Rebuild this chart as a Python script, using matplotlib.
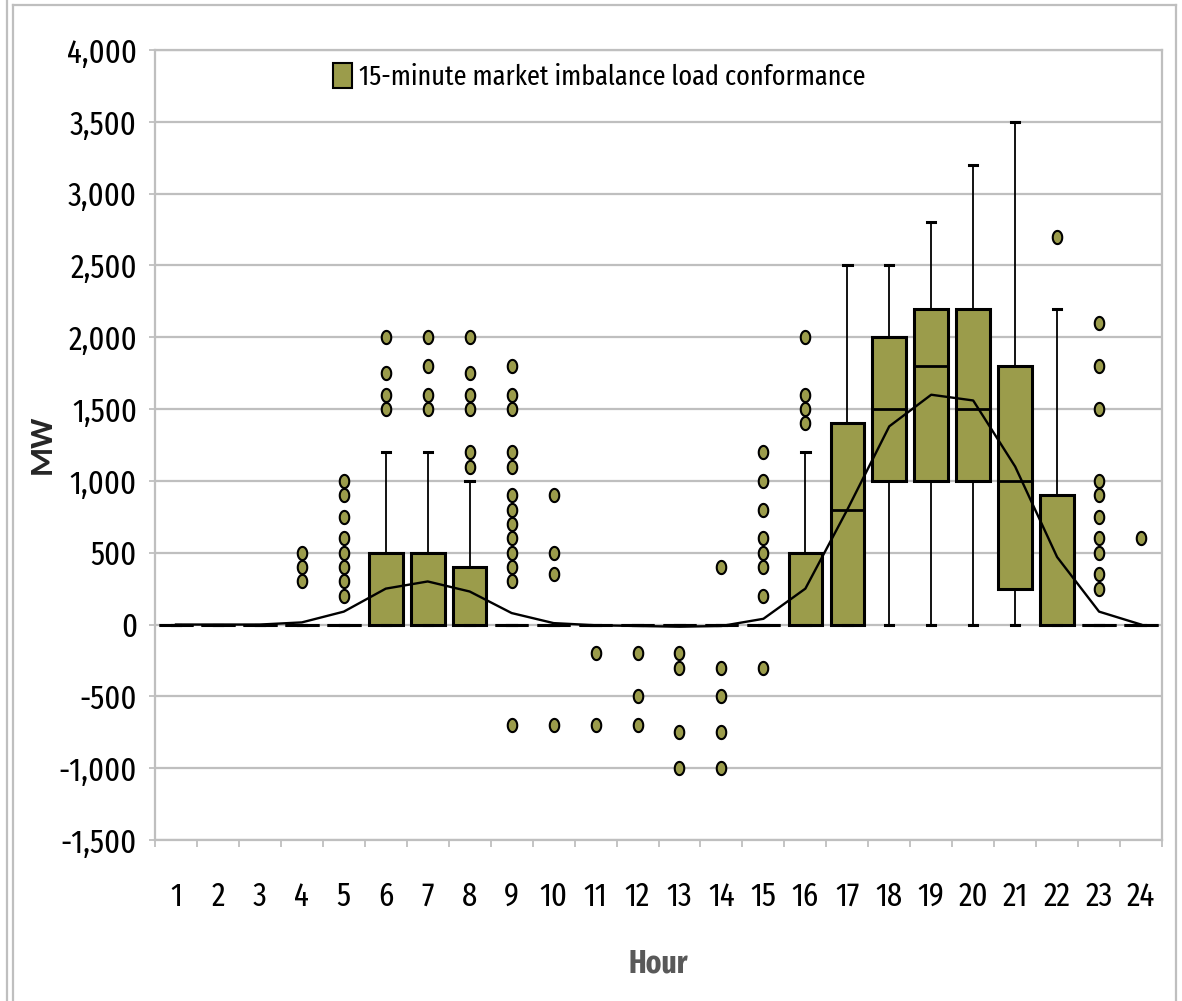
import matplotlib
matplotlib.use("Agg")
import matplotlib.pyplot as plt
from matplotlib.path import Path
from matplotlib.patches import Patch
from matplotlib.lines import Line2D
import numpy as np

# ---------------- data ----------------
hours = list(range(1, 25))
hour_labels = [str(h) for h in hours]

q1 = [0, 0, 0, 0, 0, 0, 0, 0, 0, 0, 0, 0, 0, 0, 0, 0, 0, 1000, 1000, 1000, 250, 0, 0, 0]
q3 = [0, 0, 0, 0, 0, 500, 500, 400, 0, 0, 0, 0, 0, 0, 0, 500, 1400, 2000, 2200, 2200, 1800, 900, 0, 0]
medians = [0, 0, 0, 0, 0, 0, 0, 0, 0, 0, 0, 0, 0, 0, 0, 0, 800, 1500, 1800, 1500, 1000, 0, 0, 0]
whisker_low = [0] * 24
whisker_high = [0, 0, 0, 0, 0, 1200, 1200, 1000, 0, 0, 0, 0, 0, 0, 0, 1200, 2500, 2500, 2800, 3200, 3500, 2200, 0, 0]
means = [0, 0, 0, 15, 90, 250, 300, 230, 80, 10, -5, -10, -15, -10, 40, 250, 800, 1380, 1600, 1560, 1100, 470, 90, 0]

outliers = {
    4: [500, 400, 300],
    5: [1000, 900, 750, 600, 500, 400, 300, 200],
    6: [2000, 1750, 1600, 1500],
    7: [2000, 1800, 1600, 1500],
    8: [2000, 1750, 1600, 1500, 1200, 1100],
    9: [1800, 1600, 1500, 1200, 1100, 900, 800, 700, 600, 500, 400, 300, -700],
    10: [900, 500, 350, -700],
    11: [-200, -700],
    12: [-200, -500, -700],
    13: [-200, -300, -750, -1000],
    14: [400, -300, -500, -750, -1000],
    15: [1200, 1000, 800, 600, 500, 400, 200, -300],
    16: [2000, 1600, 1500, 1400],
    22: [2700],
    23: [2100, 1800, 1500, 1000, 900, 750, 600, 500, 350, 250],
    24: [600],
}

y_ticks = [-1500, -1000, -500, 0, 500, 1000, 1500, 2000, 2500, 3000, 3500, 4000]
y_tick_labels = ["-1,500", "-1,000", "-500", "0", "500", "1,000", "1,500", "2,000",
                 "2,500", "3,000", "3,500", "4,000"]

series_name = "15-minute market imbalance load conformance"
x_title = "Hour"
y_title = "MW"

# ---------------- style ----------------
OLIVE = "#9B9C4B"
GRID = "#BFBFBF"
FONT = ["Fira Sans Extra Condensed", "DejaVu Sans"]
plt.rcParams["font.family"] = FONT

W, H = 1182, 1001
fig = plt.figure(figsize=(W / 100, H / 100), dpi=100)
ax = fig.add_axes([155 / W, (H - 840) / H, (1162 - 155) / W, (840 - 50) / H])

# outer chart border
border_kw = dict(color=GRID, lw=1.6, transform=fig.transFigure, zorder=0)
fig.add_artist(Line2D([13 / W, 13 / W], [0, 1 - 5 / H], **border_kw))
fig.add_artist(Line2D([13 / W, 1176 / W], [1 - 5 / H, 1 - 5 / H], **border_kw))
fig.add_artist(Line2D([1176 / W, 1176 / W], [0, 1 - 5 / H], **border_kw))
fig.add_artist(Line2D([7 / W, 7 / W], [0, 1], **border_kw))

# ellipse marker
t = np.linspace(0, 2 * np.pi, 40)
ell = Path(np.column_stack([0.72 * np.cos(t), np.sin(t)]), closed=True)

stats = []
for i, h in enumerate(hours):
    stats.append(dict(med=medians[i], q1=q1[i], q3=q3[i],
                      whislo=whisker_low[i], whishi=whisker_high[i],
                      fliers=np.array(outliers.get(h, []), dtype=float), label=str(h)))

ax.bxp(stats, positions=hours, widths=0.8, capwidths=0.2, patch_artist=True,
       showfliers=True,
       boxprops=dict(facecolor=OLIVE, edgecolor="black", linewidth=2.2),
       medianprops=dict(color="black", linewidth=2.0),
       whiskerprops=dict(color="black", linewidth=1.3),
       capprops=dict(color="black", linewidth=2.2),
       flierprops=dict(marker=ell, markersize=9.5, markerfacecolor=OLIVE,
                       markeredgecolor="black", markeredgewidth=1.5, linestyle="none"),
       zorder=3)

ax.plot(hours, means, color="black", lw=1.7, zorder=4)

ax.set_xlim(0.5, 24.5)
ax.set_ylim(-1500, 4000)
ax.set_yticks(y_ticks)
ax.set_yticklabels(y_tick_labels)
ax.set_xticks(hours)
ax.set_xticklabels(hour_labels)
ax.set_xticks(np.arange(0.5, 25, 1.0), minor=True)
ax.grid(axis="y", color=GRID, lw=1.6, zorder=0)
ax.set_axisbelow(True)
for s in ax.spines.values():
    s.set_color(GRID)
    s.set_linewidth(1.6)

ax.tick_params(axis="y", which="major", length=4, width=1.3, color=GRID, pad=9,
               labelsize=24, labelcolor="black")
ax.tick_params(axis="x", which="major", length=0, pad=29, labelsize=24, labelcolor="black")
ax.tick_params(axis="x", which="minor", length=5, width=1.3, color=GRID)

fig.text(658 / W, 1 - 964 / H, x_title, ha="center", va="center", fontsize=23,
         fontweight="bold", color="#595959")
fig.text(42 / W, 1 - 444 / H, y_title, ha="center", va="center", rotation=90,
         fontsize=24, fontweight="bold", color="#262626",
         family=["Carlito", "DejaVu Sans"])

ax.legend(handles=[Patch(facecolor=OLIVE, edgecolor="black", linewidth=1.5)],
          labels=[series_name], loc="center left",
          bbox_to_anchor=(333 / W, 1 - 77 / H), bbox_transform=fig.transFigure,
          frameon=False, fontsize=20.5, handlelength=0.65, handleheight=1.0,
          handletextpad=0.25, borderpad=0, borderaxespad=0)

fig.savefig("out.png", dpi=100)
